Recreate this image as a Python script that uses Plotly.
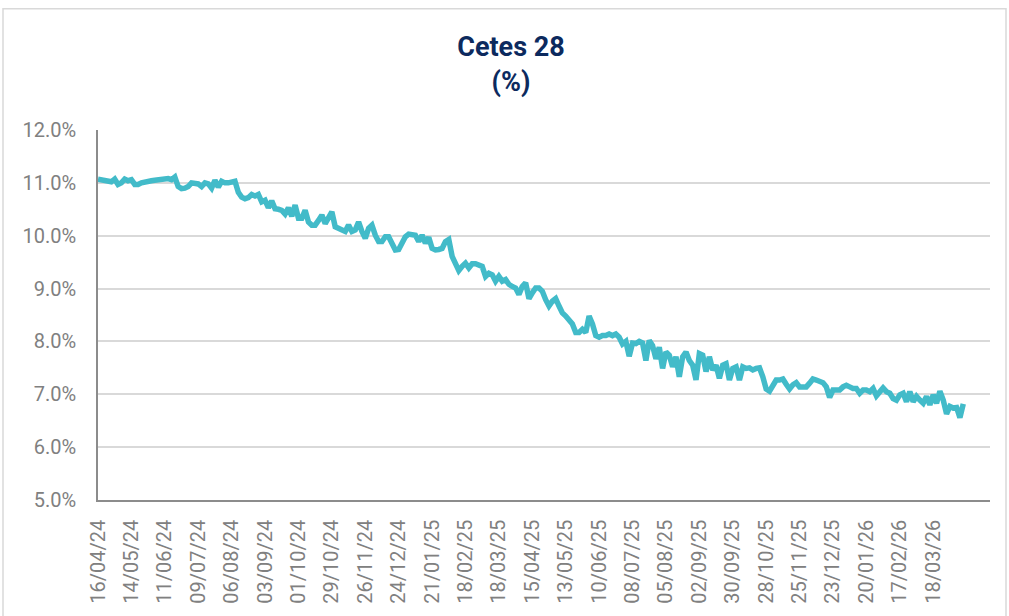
import plotly.graph_objects as go

tick_labels = ["16/04/24", "14/05/24", "11/06/24", "09/07/24", "06/08/24", "03/09/24",
               "01/10/24", "29/10/24", "26/11/24", "24/12/24", "21/01/25", "18/02/25",
               "18/03/25", "15/04/25", "13/05/25", "10/06/25", "08/07/25", "05/08/25",
               "02/09/25", "30/09/25", "28/10/25", "25/11/25", "23/12/25", "20/01/26",
               "17/02/26", "18/03/26"]

cetes28 = [
    11.07, 11.06, 11.05, 11.04, 11.02, 11.07, 10.97, 11.0, 11.07, 11.04,
    11.06, 10.97, 10.97, 11.0, 11.02, 11.03, 11.04, 11.05, 11.06, 11.07,
    11.06, 11.08, 11.06, 11.11, 10.93, 10.89, 10.9, 10.93, 11.0, 11.0,
    10.98, 10.93, 11.0, 10.98, 10.9, 11.05, 10.92, 11.03, 11.0, 11.0,
    11.02, 11.03, 10.82, 10.73, 10.7, 10.72, 10.78, 10.75, 10.78, 10.64,
    10.67, 10.53, 10.66,
    10.51, 10.5, 10.48, 10.41, 10.53, 10.37, 10.58, 10.33, 10.33, 10.48,
    10.26, 10.2, 10.2, 10.29, 10.39, 10.23, 10.36, 10.45, 10.17, 10.14,
    10.11, 10.08, 10.2, 10.08, 10.11, 10.26, 10.08, 9.95, 10.14, 10.2,
    10.01, 9.89, 9.89, 9.98, 9.98, 9.86, 9.73, 9.74, 9.86, 9.98,
    10.03, 10.03, 10.01, 9.89, 10.01, 9.86, 9.97, 9.76, 9.73, 9.74,
    9.76, 9.89, 9.93,
    9.61, 9.45, 9.34, 9.42, 9.48, 9.39, 9.47, 9.47, 9.45, 9.42,
    9.23, 9.29, 9.26, 9.14, 9.23, 9.14, 9.17, 9.08, 9.04, 9.01,
    8.89, 9.04, 9.11, 8.81, 8.92, 9.01, 9.01, 8.95, 8.79, 8.67,
    8.76, 8.81, 8.67, 8.54, 8.48, 8.42, 8.33, 8.17, 8.17, 8.23,
    8.17, 8.48, 8.33, 8.11, 8.08, 8.11, 8.11, 8.14, 8.11, 8.14,
    8.08, 7.95,
    8.0, 7.72, 7.97, 7.96, 8.0, 7.97, 7.64, 8.02, 7.92, 7.67,
    7.89, 7.49, 7.8, 7.74, 7.52, 7.71, 7.33, 7.71, 7.8, 7.64,
    7.55, 7.27, 7.77, 7.74, 7.43, 7.71, 7.46, 7.55, 7.3, 7.55,
    7.58, 7.27, 7.49, 7.52, 7.27, 7.52, 7.49, 7.5, 7.46, 7.49,
    7.5, 7.33, 7.1, 7.06, 7.18, 7.27, 7.27, 7.29, 7.19, 7.1,
    7.18,
    7.22, 7.14, 7.14, 7.14, 7.21, 7.29, 7.27, 7.25, 7.22, 7.14,
    6.94, 7.08, 7.08, 7.08, 7.14, 7.17, 7.14, 7.11, 7.11, 7.02,
    7.08, 7.08, 7.05, 7.11, 6.97, 7.05, 7.12, 7.05, 7.02, 6.92,
    6.89, 6.99, 7.02, 6.86, 7.05, 6.86, 6.96, 6.89, 6.83, 6.96,
    6.8, 6.99, 6.83, 7.06, 6.89, 6.63, 6.77, 6.74, 6.75, 6.56,
    6.82,
]

points_per_label = 10
x = list(range(len(cetes28)))
tickvals = [i * points_per_label for i in range(len(tick_labels))]

W, H = 1009, 616
L, R, T, B = 98, 19, 130, 114
pw, ph = W - L - R, H - T - B

fig = go.Figure()
fig.add_trace(go.Scatter(
    x=x, y=cetes28, mode="lines",
    line=dict(color="#42BBC9", width=5.5),
    hoverinfo="y",
))

fig.update_layout(
    width=W, height=H,
    margin=dict(l=L, r=R, t=T, b=B),
    paper_bgcolor="white", plot_bgcolor="white",
    showlegend=False,
    font=dict(family="Roboto", color="#7F7F7F"),
    title=dict(
        text="<b>Cetes 28</b><br><b>(%)</b>",
        x=511 / W, xanchor="center", xref="container",
        y=1 - 56 / H, yanchor="top", yref="container",
        font=dict(family="Roboto", size=27, color="#0C2A5E"),
    ),
    xaxis=dict(
        range=[0, 267],
        tickmode="array", tickvals=tickvals, ticktext=tick_labels,
        tickangle=-90, tickfont=dict(size=20, color="#808080"),
        showgrid=False, zeroline=False,
        showline=True, linecolor="#8C8C8C", linewidth=1.5,
        ticks="", ticklabelstandoff=10,
    ),
    yaxis=dict(
        range=[5, 12], dtick=1, tickformat=".1f", ticksuffix="%",
        tickfont=dict(size=20, color="#808080"),
        showgrid=True, gridcolor="#D9D9D9", gridwidth=1.5,
        zeroline=False,
        showline=True, linecolor="#8C8C8C", linewidth=1.5,
        ticks="", ticklabelstandoff=16,
    ),
    shapes=[dict(
        type="rect", xref="paper", yref="paper",
        x0=(3 - L) / pw, x1=(1006 - L) / pw,
        y0=(H - T - ph - 50) / ph - 1, y1=(H - B - 8) / ph,
        line=dict(color="#D9D9D9", width=1.5), fillcolor="rgba(0,0,0,0)",
        layer="below",
    )],
)

fig.write_html(
    "out.html",
    config={"displayModeBar": False},
    post_script="document.body.style.margin='0';document.body.style.padding='0';",
)
